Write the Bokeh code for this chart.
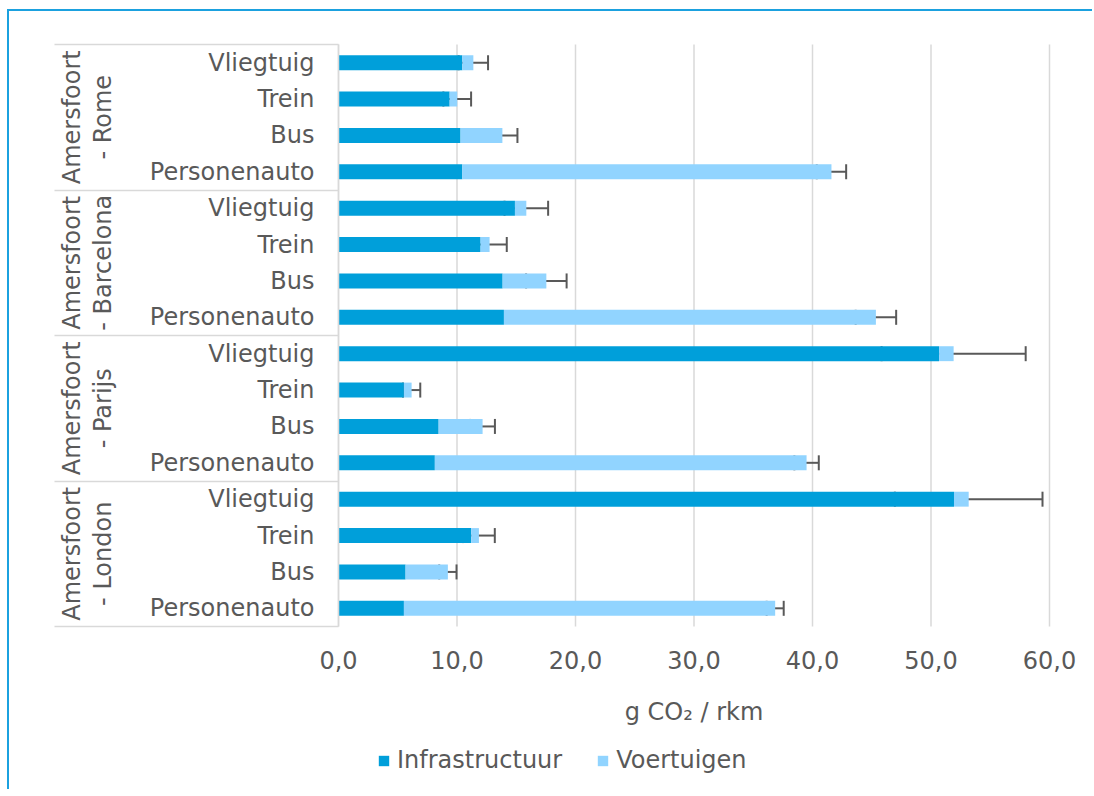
import math
import numpy as np
from bokeh.plotting import figure
from bokeh.models import (FixedTicker, LinearAxis, Range1d, Whisker, TeeHead,
                          ColumnDataSource, Legend, LegendItem)
from bokeh.embed import file_html
from bokeh.resources import INLINE

# ---- data (top to bottom as shown) ----
city_line1 = ["Amersfoort", "Amersfoort", "Amersfoort", "Amersfoort"]
city_line2 = ["- Rome", "- Barcelona", "- Parijs", "- London"]
modes = ["Vliegtuig", "Trein", "Bus", "Personenauto"]

infrastructuur = [10.45, 9.38, 10.30, 10.45,
                  14.89, 11.99, 13.85, 13.96,
                  50.68, 5.52, 8.45, 8.13,
                  51.94, 11.20, 5.66, 5.52]
voertuigen = [0.93, 0.64, 3.53, 31.15,
              0.96, 0.76, 3.69, 31.39,
              1.23, 0.65, 3.71, 31.37,
              1.24, 0.65, 3.57, 31.33]
foutmarge = [1.24, 1.17, 1.27, 1.24,
             1.84, 1.45, 1.71, 1.71,
             6.08, 0.73, 1.04, 1.03,
             6.23, 1.34, 0.73, 0.72]

x_ticks = [0, 10, 20, 30, 40, 50, 60]
x_tick_labels = ["0,0", "10,0", "20,0", "30,0", "40,0", "50,0", "60,0"]
axis_title = "g CO\u2082 / rkm"
series_names = ["Infrastructuur", "Voertuigen"]

# ---- styling ----
FONT = "DejaVu Sans"
TXT = "#595959"
GRID = "#D9D9D9"
C_INFRA = "#009FDA"
C_VOER = "#91D4FF"
FS = "24px"

# ---- layout (canvas pixels) ----
W, H = 1085, 780
PLOT_L, PLOT_R = 329, 1040      # x = 0 and x = 60
PLOT_T, PLOT_B = 33, 615        # top and bottom of the 16 category rows
B1_PX, B2_PX, SEP_PX = 130, 81, 45   # positions of the label columns

n_groups = len(city_line2)
n_modes = len(modes)
n = n_groups * n_modes
x_max = x_ticks[-1]
sx = (PLOT_R - PLOT_L) / x_max
sy = (PLOT_B - PLOT_T) / n
x_start = -PLOT_L / sx
x_end = x_max + (W - PLOT_R) / sx
y_end = n + PLOT_T / sy
y_start = n - (H - PLOT_T) / sy


def px_to_x(px):
    return (px - PLOT_L) / sx


ys = [n - 0.5 - i for i in range(n)]
infra = np.array(infrastructuur)
voer = np.array(voertuigen)
total = infra + voer
err = np.array(foutmarge)

src = ColumnDataSource(dict(y=ys, infra=infra, total=total,
                            lower=total - err, upper=total + err))

p = figure(width=W, height=H,
           x_range=Range1d(x_start, x_end), y_range=Range1d(y_start, y_end),
           output_backend="svg", toolbar_location=None,
           min_border_left=0, min_border_right=0,
           min_border_top=0, min_border_bottom=0)
p.outline_line_color = None
p.background_fill_color = "white"
p.border_fill_color = "white"
p.styles = {"border-top": "2px solid #1BA1DF", "border-left": "2px solid #1BA1DF",
            "margin-top": "9px", "margin-left": "7px"}

# vertical grid lines, only over the category rows
p.xgrid.visible = False
p.ygrid.visible = False
p.segment(x0=x_ticks, y0=[0] * len(x_ticks), x1=x_ticks, y1=[n] * len(x_ticks),
          line_color=GRID, line_width=1.5, level="underlay")

r1 = p.hbar(y="y", left=0, right="infra", height=0.41, source=src,
            fill_color=C_INFRA, line_color=None)
r2 = p.hbar(y="y", left="infra", right="total", height=0.41, source=src,
            fill_color=C_VOER, line_color=None)

wh = Whisker(base="y", lower="lower", upper="upper", dimension="width", source=src,
             line_color="#595959", line_width=2,
             lower_head=TeeHead(size=15, line_color="#595959", line_width=2),
             upper_head=TeeHead(size=15, line_color="#595959", line_width=2))
p.add_layout(wh)

# x axis, pinned at y = 0
xa = p.xaxis[0]
xa.fixed_location = 0
xa.bounds = (0, x_max)
xa.ticker = FixedTicker(ticks=x_ticks)
xa.major_label_overrides = {t: l for t, l in zip(x_ticks, x_tick_labels)}
xa.axis_line_color = None
xa.major_tick_line_color = None
xa.minor_tick_line_color = None
xa.major_tick_out = 0
xa.minor_tick_out = 0
xa.major_label_standoff = 24
xa.major_label_text_font = FONT
xa.major_label_text_font_size = FS
xa.major_label_text_color = TXT
xa.axis_label = axis_title
xa.axis_label_text_font = FONT
xa.axis_label_text_font_size = FS
xa.axis_label_text_font_style = "normal"
xa.axis_label_text_color = TXT
xa.axis_label_standoff = 26

# inner y axis (at x = 0): mode labels
ya = p.yaxis[0]
ya.fixed_location = 0
ya.bounds = (0, n)
ya.ticker = FixedTicker(ticks=ys)
ya.major_label_overrides = {y: modes[i % n_modes] for i, y in enumerate(ys)}
ya.axis_line_color = GRID
ya.axis_line_width = 1.5
ya.major_tick_line_color = None
ya.minor_tick_line_color = None
ya.major_tick_out = 0
ya.major_tick_in = 0
ya.minor_tick_out = 0
ya.major_label_standoff = 24
ya.major_label_text_font = FONT
ya.major_label_text_font_size = FS
ya.major_label_text_color = TXT

group_centers = [n - n_modes * k - n_modes / 2 for k in range(n_groups)]
group_bounds = [n - n_modes * k for k in range(n_groups + 1)]


def group_axis(labels, loc_px, standoff):
    ax = LinearAxis(ticker=FixedTicker(ticks=group_centers),
                    fixed_location=px_to_x(loc_px))
    ax.major_label_overrides = {c: s for c, s in zip(group_centers, labels)}
    ax.major_label_orientation = "parallel"
    ax.axis_line_color = None
    ax.major_tick_line_color = None
    ax.minor_tick_line_color = None
    ax.major_tick_out = 0
    ax.major_tick_in = 0
    ax.minor_tick_out = 0
    ax.major_label_standoff = standoff
    ax.major_label_text_font = FONT
    ax.major_label_text_font_size = FS
    ax.major_label_text_color = TXT
    return ax


p.add_layout(group_axis(city_line2, B1_PX, 23), "left")
p.add_layout(group_axis(city_line1, B2_PX, 5), "left")

# separator lines between the groups, as inward ticks of an unlabeled axis
sep = LinearAxis(ticker=FixedTicker(ticks=group_bounds), fixed_location=px_to_x(SEP_PX))
sep.major_label_overrides = {b: "" for b in group_bounds}
sep.major_label_text_font_size = "1px"
sep.major_label_standoff = 0
sep.axis_line_color = None
sep.major_tick_line_color = GRID
sep.major_tick_line_width = 1.5
sep.major_tick_in = PLOT_L - SEP_PX
sep.major_tick_out = 0
sep.minor_tick_line_color = None
sep.minor_tick_out = 0
p.add_layout(sep, "left")

legend = Legend(items=[LegendItem(label=series_names[0], renderers=[r1]),
                       LegendItem(label=series_names[1], renderers=[r2])],
                location=(368, 17), orientation="horizontal",
                glyph_width=13, glyph_height=13, label_standoff=7, spacing=34,
                padding=0, margin=0, border_line_color=None,
                background_fill_alpha=0,
                label_text_font=FONT, label_text_font_size=FS,
                label_text_color=TXT)
p.add_layout(legend)

open("out.html", "w").write(file_html(p, INLINE))
